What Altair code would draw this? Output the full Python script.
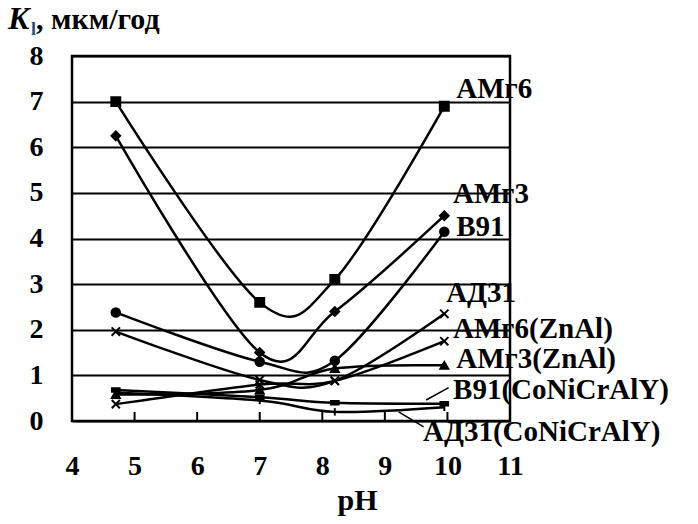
import altair as alt
import pandas as pd

# pH values at which the corrosion rate was measured
ph = [4.7, 7.0, 8.2, 9.95]

# Corrosion rate K_l, мкм/год, for each alloy / coating
series_names = ["АМг6", "АМг3", "В91", "АД31",
                "АМг6(ZnAl)", "АМг3(ZnAl)", "В91(CoNiCrAlY)", "АД31(CoNiCrAlY)"]
amg6 = [7.0, 2.6, 3.1, 6.9]
amg3 = [6.25, 1.5, 2.4, 4.5]
v91 = [2.38, 1.3, 1.32, 4.15]
ad31 = [1.96, 0.9, 0.88, 2.35]
amg6_znal = [0.37, 0.8, 0.88, 1.75]
amg3_znal = [0.58, 0.68, 1.15, 1.22]
v91_conicraly = [0.68, 0.52, 0.4, 0.38]
ad31_conicraly = [0.62, 0.45, 0.2, 0.3]
series_values = [amg6, amg3, v91, ad31, amg6_znal, amg3_znal, v91_conicraly, ad31_conicraly]

# Curve labels: anchor point (pH, K) of each label
label_ph = [10.14, 10.09, 10.14, 9.98, 10.09, 10.14, 10.09, 9.61]
label_k = [7.27, 4.97, 4.26, 2.81, 2.01, 1.35, 0.68, -0.24]

# Leader lines for the two lowest labels
leader_ph = [9.66, 9.22]
leader_ph2 = [10.02, 9.62]
leader_k = [0.46, 0.2]
leader_k2 = [0.73, -0.13]

# Inner tick marks on the pH axis
x_ticks = [5, 6, 7, 8, 9, 10]

rows = []
for name, vals in zip(series_names, series_values):
    for p, v in zip(ph, vals):
        rows.append({"series": name, "pH": p, "K": v})
df = pd.DataFrame(rows)
labels_df = pd.DataFrame({"text": series_names, "pH": label_ph, "K": label_k})
leaders_df = pd.DataFrame({"pH": leader_ph, "pH2": leader_ph2, "K": leader_k, "K2": leader_k2})
ticks_df = pd.DataFrame({"pH": x_ticks})

SERIF = "Liberation Serif"
x_scale = alt.Scale(domain=[4, 11], nice=False, zero=False)
y_scale = alt.Scale(domain=[0, 8], nice=False)

x_axis = alt.Axis(values=list(range(4, 12)), format="d", title="pH", labelFont=SERIF,
                  labelFontSize=28, labelFontWeight="bold", labelColor="black", labelPadding=31,
                  ticks=False, domain=False, grid=False, titleFont=SERIF, titleFontSize=30,
                  titleFontWeight="bold", titleColor="black", titleX=285, titleY=88,
                  titleBaseline="alphabetic", labelFlush=False)
y_axis = alt.Axis(values=list(range(0, 9)), format="d", title=None, labelFont=SERIF,
                  labelFontSize=28, labelFontWeight="bold", labelColor="black", labelPadding=29,
                  ticks=False, domain=False, grid=True, gridColor="black", gridWidth=2,
                  gridOpacity=1)

shape_range = [
    "square", "diamond", "circle",
    "M-1,-1L1,1M-1,1L1,-1",
    "M-1,-1L1,1M-1,1L1,-1",
    "triangle-up",
    "M-1,-0.45L1,-0.45L1,0.45L-1,0.45Z",
    "M0,-1L0,1",
]
size_range = [80, 55, 70, 70, 60, 55, 70, 200]

base = alt.Chart(df)

lines = base.mark_line(interpolate="cardinal", color="black", strokeWidth=2.5).encode(
    x=alt.X("pH:Q", scale=x_scale, axis=x_axis),
    y=alt.Y("K:Q", scale=y_scale, axis=y_axis),
    detail="series:N",
)

points = base.mark_point(filled=True, color="black", stroke="black", strokeWidth=2, opacity=1).encode(
    x=alt.X("pH:Q", scale=x_scale),
    y=alt.Y("K:Q", scale=y_scale),
    shape=alt.Shape("series:N", scale=alt.Scale(domain=series_names, range=shape_range), legend=None),
    size=alt.Size("series:N", scale=alt.Scale(domain=series_names, range=size_range), legend=None),
)

ticks = alt.Chart(ticks_df).mark_rule(color="black", strokeWidth=2).encode(
    x=alt.X("pH:Q", scale=x_scale),
    y=alt.value(365),
    y2=alt.value(356),
)

leaders = alt.Chart(leaders_df).mark_rule(color="black", strokeWidth=1.5).encode(
    x=alt.X("pH:Q", scale=x_scale),
    x2="pH2:Q",
    y=alt.Y("K:Q", scale=y_scale),
    y2="K2:Q",
)

labels = alt.Chart(labels_df).mark_text(
    align="left", baseline="middle", font=SERIF, fontSize=29, fontWeight="bold", color="black"
).encode(
    x=alt.X("pH:Q", scale=x_scale),
    y=alt.Y("K:Q", scale=y_scale),
    text="text:N",
)

title_k = alt.Chart(pd.DataFrame({"t": ["K"]})).mark_text(
    align="left", baseline="alphabetic", font=SERIF, fontSize=32, fontWeight="bold",
    fontStyle="italic", color="black"
).encode(x=alt.value(-64), y=alt.value(-27), text="t:N")

title_sub = alt.Chart(pd.DataFrame({"t": ["l"]})).mark_text(
    align="left", baseline="alphabetic", font=SERIF, fontSize=18, fontWeight="bold",
    color="#1f4f7a"
).encode(x=alt.value(-41), y=alt.value(-21), text="t:N")

title_units = alt.Chart(pd.DataFrame({"t": [", мкм/год"]})).mark_text(
    align="left", baseline="alphabetic", font=SERIF, fontSize=30, fontWeight="bold", color="black"
).encode(x=alt.value(-36), y=alt.value(-27), text="t:N")

chart = alt.layer(lines, ticks, points, leaders, labels, title_k, title_sub, title_units).properties(
    width=438,
    height=365,
    autosize=alt.AutoSizeParams(type="none"),
    padding={"left": 72, "top": 56, "right": 188, "bottom": 103},
    background="white",
).configure_view(stroke="black", strokeWidth=2.5)

chart.save("out.html", embed_options={"renderer": "svg", "actions": False})
